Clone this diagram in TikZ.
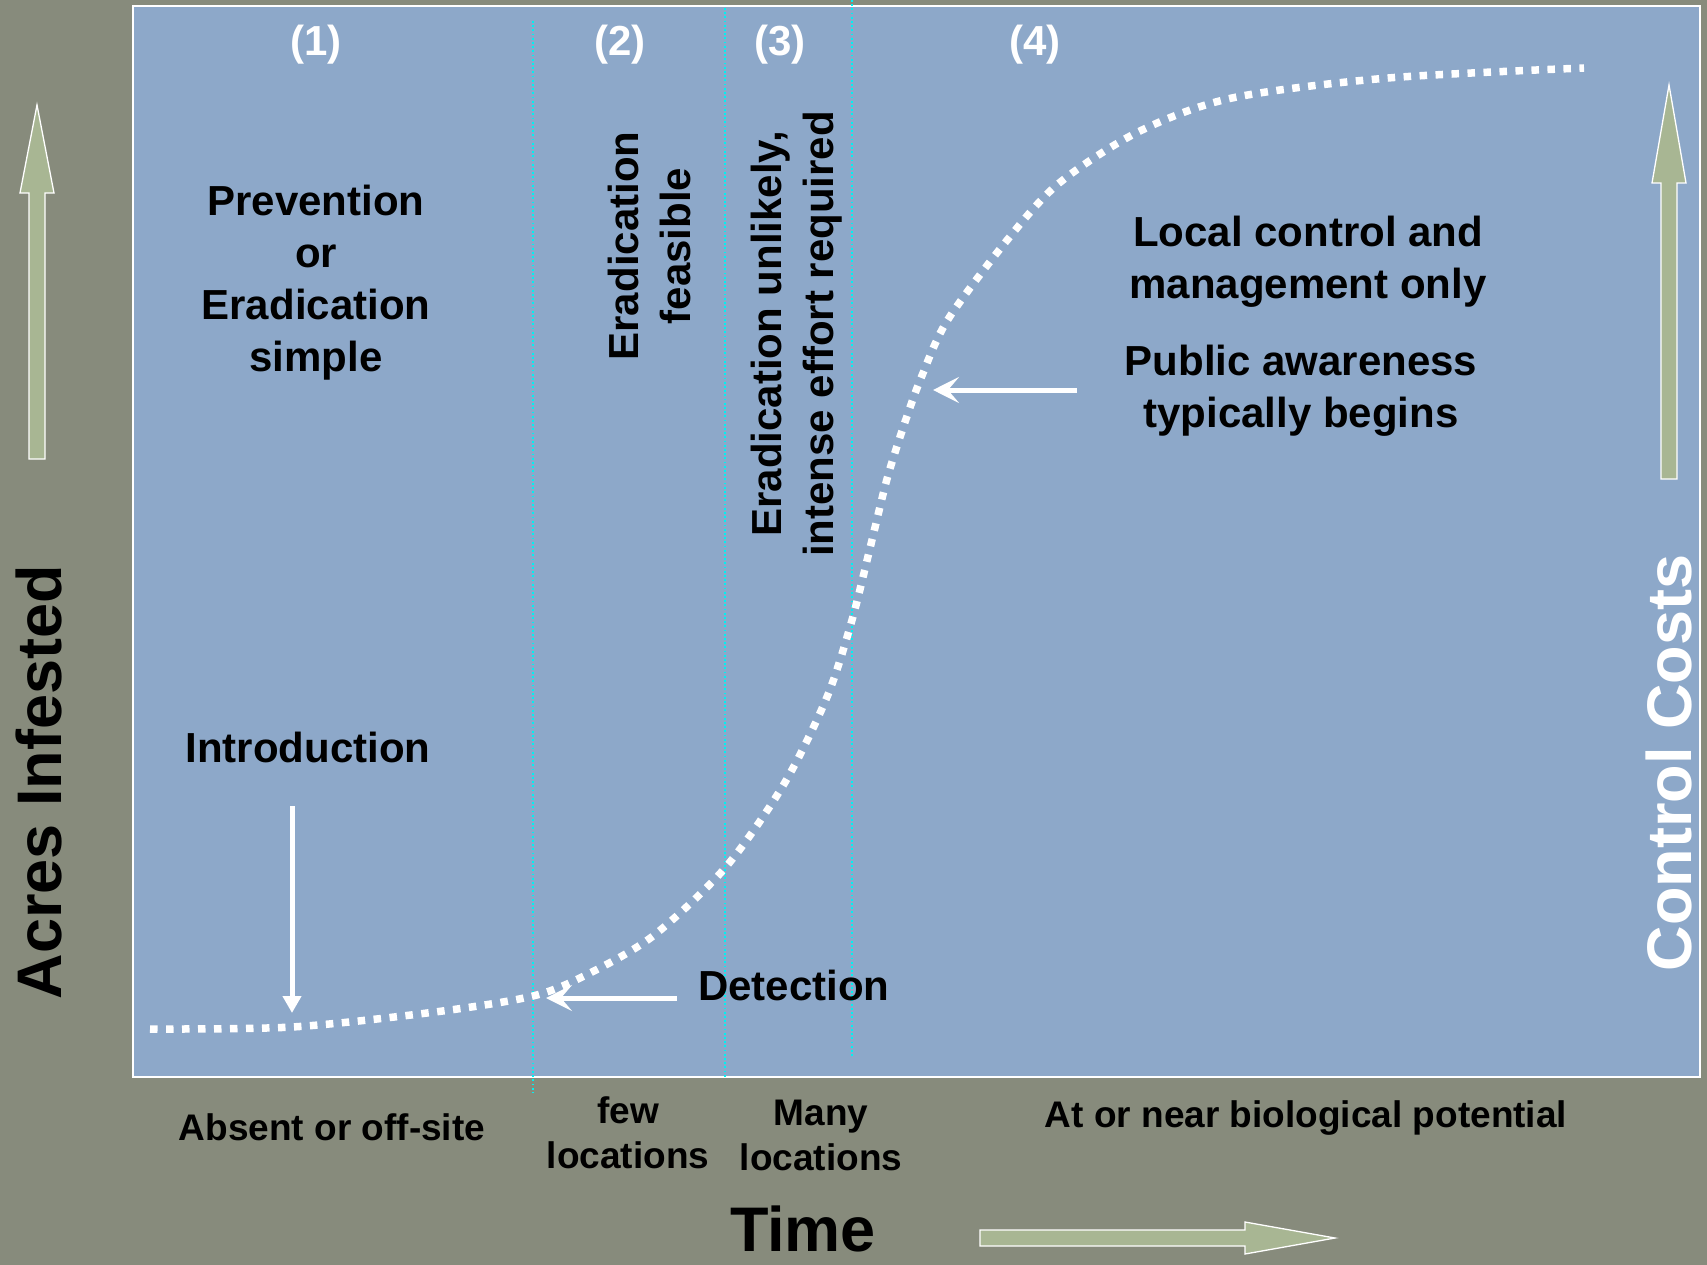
\documentclass[tikz,border=0pt]{standalone}
\usepackage{fontspec}
\setmainfont{Liberation Sans}
\usetikzlibrary{arrows.meta}
\definecolor{bgc}{HTML}{878B7C}
\definecolor{plotc}{HTML}{8DA8C9}
\definecolor{arrc}{HTML}{A8B693}
\definecolor{cyanc}{HTML}{00F2F2}
\begin{document}
\begin{tikzpicture}[x=1pt,y=-1pt,
  lbl/.style={font=\bfseries\fontsize{42}{52}\selectfont, align=center, inner sep=0pt, text=black},
  num/.style={lbl, text=white},
  small/.style={font=\bfseries\fontsize{37}{45}\selectfont, align=center, inner sep=0pt, text=black},
  big/.style={font=\bfseries\fontsize{63}{70}\selectfont, inner sep=0pt, text=black},
  divider/.style={draw=cyanc, line width=1.8pt, dash pattern=on 1.8pt off 2.4pt},
  curve/.style={draw=white, line width=7.5pt, dash pattern=on 7.5pt off 8.5pt},
  wharrow/.style={draw=white, line width=5pt, -{Stealth[length=26pt,width=26pt,inset=11pt]}},
  introarrow/.style={draw=white, line width=5pt, -{Triangle[length=17pt,width=18pt]}},
  fatarrow/.style={fill=arrc, draw=white, line width=1.3pt}
]
\useasboundingbox (0,0) rectangle (1707,1265);
\fill[bgc] (0,0) rectangle (1707,1265);
% plot area
\draw[white, line width=2pt, fill=plotc] (133,6) rectangle (1700,1077);
% phase dividers
\draw[divider] (533,21) -- (533,1093);
\draw[divider] (725,8) -- (725,1077);
\draw[divider] (852,0) -- (852,1058);
% invasion curve
\draw[curve] plot[smooth, tension=0.5] coordinates {(150,1029) (292,1027) (435,1012) (533,996) (588,974) (653,936) (725,868) (784,784) (827,697) (852,620) (871,544) (887,479) (904,425) (921,378) (947,321) (1004,244) (1058,184) (1138,132) (1232,98) (1388,78) (1584,68)};
% phase numbers
\node[num] (n1) at (316,45) {(1)};
\node[num] (n2) at (620,45) {(2)};
\node[num] (n3) at (780,45) {(3)};
\node[num] (n4) at (1035,45) {(4)};
% phase texts
\node[lbl] (prev) at (316,283) {Prevention\\or\\Eradication\\simple};
\node[lbl, rotate=90] (feas) at (649,246) {Eradication\\feasible};
\node[lbl, rotate=90] (unl) at (797,334) {Eradication unlikely,\\intense effort required};
\node[lbl] (local) at (1308,262) {Local control and\\management only};
\node[lbl] (pub) at (1301,391) {Public awareness\\typically begins};
\node[lbl] (intro) at (308,747) {Introduction};
\node[lbl, anchor=base west] (det) at (698,1000) {Detection};
% pointer arrows
\coordinate (pubS) at (1077,390);
\coordinate (pubE) at (933,390);
\draw[wharrow] (pubS) -- (pubE);
\coordinate (introS) at (292,806);
\coordinate (introE) at (292,1013);
\draw[introarrow] (introS) -- (introE);
\coordinate (detS) at (677,998);
\coordinate (detE) at (546,998);
\draw[wharrow] (detS) -- (detE);
% bottom labels
\node[small] (absent) at (332,1127) {Absent or off-site};
\node[small] (few) at (628,1133) {few\\locations};
\node[small] (many) at (821,1135) {Many\\locations};
\node[small] (bio) at (1306,1118) {At or near biological potential};
\node[big] (time) at (803,1229) {Time};
\node[big, rotate=90] (acres) at (39,782) {Acres Infested};
\node[big, rotate=90, text=white] (costs) at (1669,763) {Control Costs};
% fat green arrows
\draw[fatarrow] (29,459) -- (29,193) -- (20,193) -- (37,105) -- (54,193) -- (45,193) -- (45,459) -- cycle;
\draw[fatarrow] (1661,479) -- (1661,183) -- (1652,183) -- (1669,85) -- (1686,183) -- (1677,183) -- (1677,479) -- cycle;
\draw[fatarrow] (980,1230) -- (1245,1230) -- (1245,1222) -- (1335,1238) -- (1245,1254) -- (1245,1246) -- (980,1246) -- cycle;
\end{tikzpicture}
\end{document}
